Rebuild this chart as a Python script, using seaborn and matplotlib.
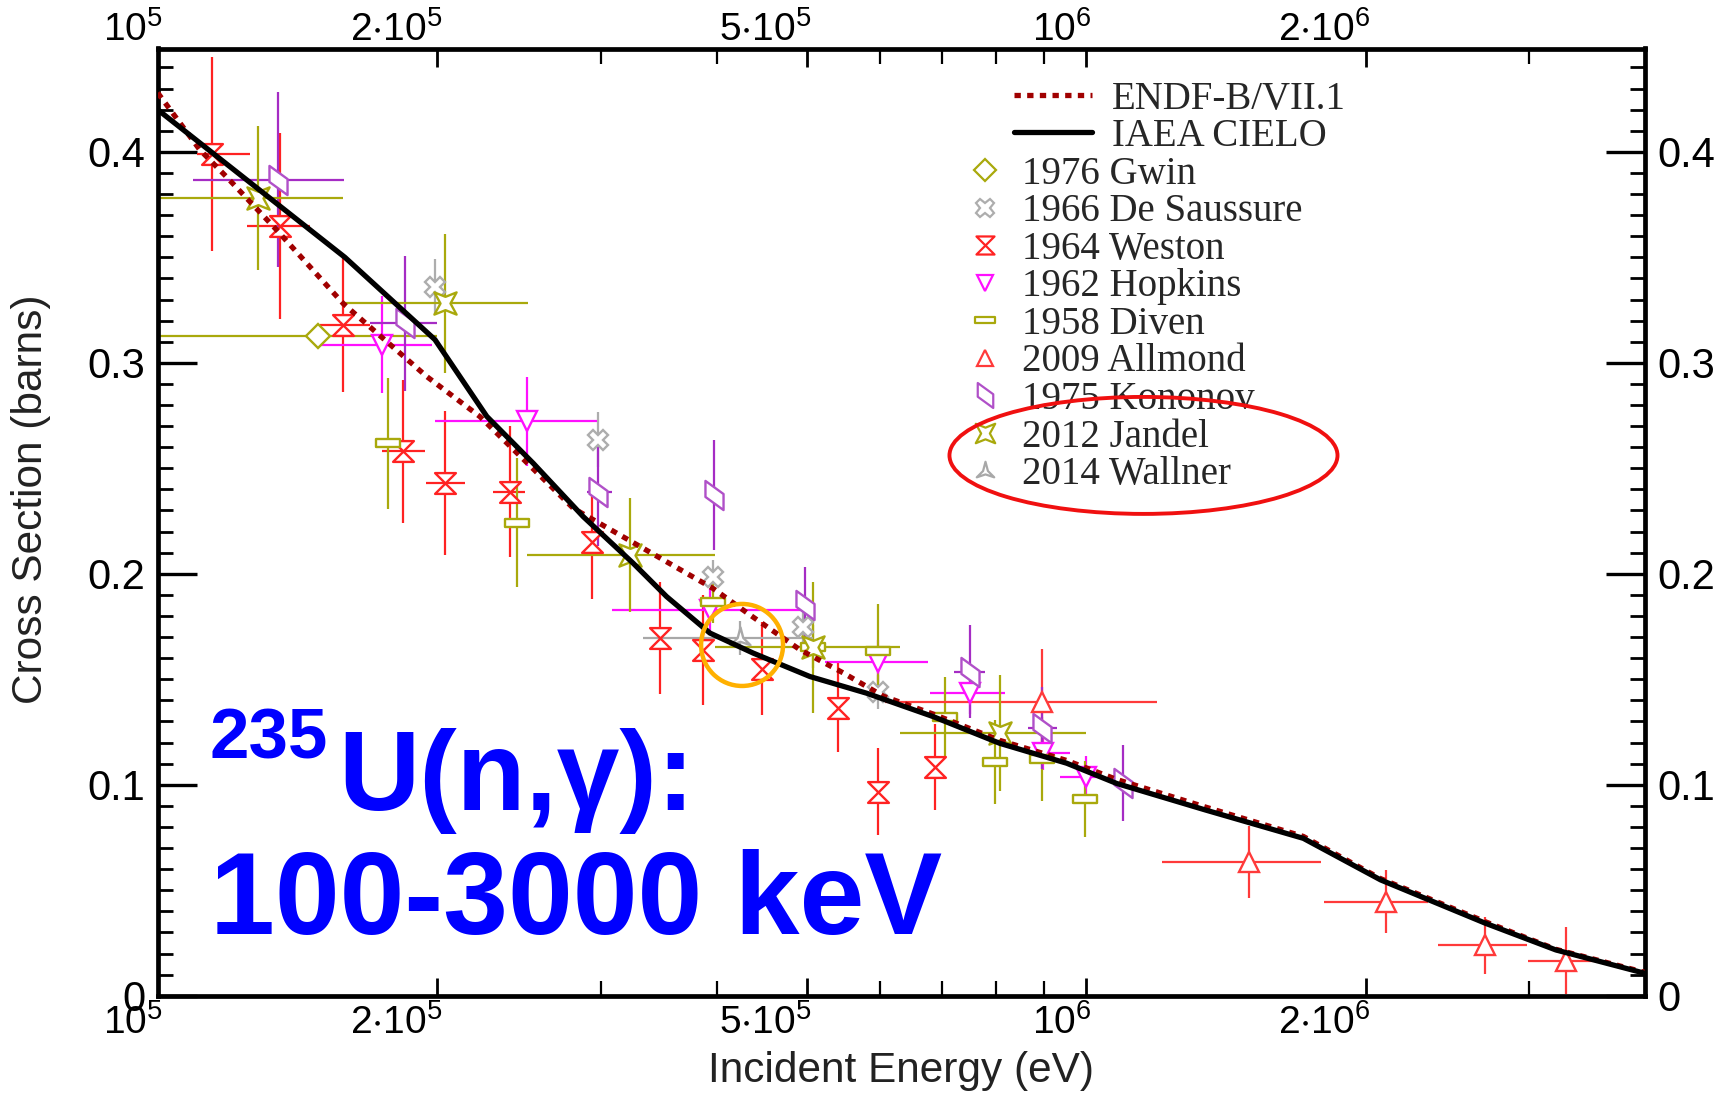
import numpy as np
import pandas as pd
import matplotlib
matplotlib.use("Agg")
import matplotlib.pyplot as plt
import seaborn as sns
from matplotlib.path import Path
from matplotlib.markers import MarkerStyle
from matplotlib.lines import Line2D
from matplotlib.patches import Ellipse
from matplotlib import font_manager
from matplotlib.transforms import ScaledTranslation
import matplotlib.ticker as mticker

# ---------------- data ----------------
# evaluated curves: energy (eV), cross section (b)
endf_E = [1.000e5, 1.110e5, 1.187e5, 1.343e5, 1.585e5, 1.949e5, 2.224e5, 2.804e5,
          3.306e5, 3.966e5, 4.345e5, 4.918e5, 5.476e5, 6.047e5, 6.844e5, 8.077e5,
          9.531e5, 1.079e6, 1.343e6, 1.714e6, 2.076e6, 2.694e6, 3.206e6, 4.000e6]
endf_S = [0.428, 0.401, 0.388, 0.363, 0.328, 0.2935, 0.2745, 0.231,
          0.213, 0.193, 0.1805, 0.164, 0.153, 0.142, 0.1335, 0.121,
          0.1115, 0.1025, 0.0895, 0.0755, 0.0555, 0.035, 0.022, 0.011]

cielo_E = [1.000e5, 1.591e5, 1.989e5, 2.262e5, 2.538e5, 2.873e5, 3.252e5, 3.533e5,
           3.934e5, 4.380e5, 5.041e5, 5.802e5, 6.844e5, 8.077e5, 9.531e5, 1.079e6,
           1.343e6, 1.714e6, 2.076e6, 2.694e6, 3.206e6, 4.000e6]
cielo_S = [0.420, 0.350, 0.311, 0.2746, 0.2524, 0.2271, 0.2050, 0.1892,
           0.1719, 0.1624, 0.1513, 0.1434, 0.1323, 0.1196, 0.1102, 0.1006,
           0.0881, 0.0746, 0.0549, 0.0343, 0.0217, 0.0106]

# experiments: E, sigma, d_sigma, E_low, E_high
gwin_E = [1.489e5]; gwin_S = [0.3125]; gwin_dS = [0.004]
gwin_Elo = [0.99e5]; gwin_Ehi = [1.998e5]

desau_E = [1.989e5, 2.982e5, 3.966e5, 4.958e5, 5.972e5]
desau_S = [0.336, 0.2635, 0.1987, 0.175, 0.1441]
desau_dS = [0.013, 0.013, 0.008, 0.010, 0.008]
desau_Elo = desau_E; desau_Ehi = desau_E

weston_E = [1.143e5, 1.354e5, 1.585e5, 1.839e5, 2.038e5, 2.395e5, 2.934e5, 3.475e5,
            3.869e5, 4.472e5, 5.410e5, 5.972e5, 6.874e5]
weston_S = [0.399, 0.365, 0.318, 0.258, 0.243, 0.239, 0.215, 0.1695,
            0.164, 0.155, 0.1366, 0.0967, 0.1083]
weston_dS = [0.046, 0.044, 0.032, 0.034, 0.034, 0.031, 0.027, 0.0265,
             0.026, 0.022, 0.021, 0.0205, 0.0205]
weston_Elo = [1.102e5, 1.249e5, 1.496e5, 1.743e5, 1.945e5, 2.298e5, 2.934e5, 3.475e5,
              3.869e5, 4.472e5, 5.410e5, 5.972e5, 6.874e5]
weston_Ehi = [1.257e5, 1.459e5, 1.693e5, 1.941e5, 2.143e5, 2.487e5, 2.934e5, 3.475e5,
              3.869e5, 4.472e5, 5.410e5, 5.972e5, 6.874e5]

hopk_E = [1.743e5, 2.497e5, 3.934e5, 5.972e5, 7.495e5, 8.978e5, 1.001e6]
hopk_S = [0.3085, 0.2722, 0.1829, 0.1584, 0.1434, 0.1149, 0.1038]
hopk_dS = [0.023, 0.021, 0.010, 0.010, 0.010, 0.008, 0.010]
hopk_Elo = [1.496e5, 1.989e5, 3.084e5, 5.231e5, 6.790e5, 8.70e5, 9.37e5]
hopk_Ehi = [1.973e5, 2.970e5, 4.958e5, 6.760e5, 8.170e5, 9.61e5, 1.035e6]

diven_E = [1.772e5, 2.436e5, 3.966e5, 5.080e5, 5.972e5, 7.047e5, 7.974e5, 8.960e5, 9.970e5]
diven_S = [0.2619, 0.2243, 0.1868, 0.1655, 0.1636, 0.132, 0.1107, 0.1121, 0.0933]
diven_dS = [0.031, 0.0305, 0.010, 0.010, 0.022, 0.019, 0.020, 0.020, 0.018]
diven_Elo = diven_E; diven_Ehi = diven_E

allm_E = [8.968e5, 1.498e6, 2.103e6, 2.689e6, 3.290e6]
allm_S = [0.1394, 0.0635, 0.0446, 0.024, 0.0166]
allm_dS = [0.025, 0.017, 0.015, 0.0135, 0.016]
allm_Elo = [6.072e5, 1.208e6, 1.806e6, 2.396e6, 2.996e6]
allm_Ehi = [1.191e6, 1.790e6, 2.334e6, 2.985e6, 3.550e6]

konon_E = [1.348e5, 1.847e5, 2.982e5, 3.972e5, 4.979e5, 7.495e5, 8.968e5, 1.095e6]
konon_S = [0.3868, 0.3188, 0.239, 0.2374, 0.1853, 0.1536, 0.1268, 0.1007]
konon_dS = [0.0415, 0.032, 0.026, 0.026, 0.018, 0.022, 0.0195, 0.018]
konon_Elo = [1.092e5, 1.693e5, 2.898e5, 3.972e5, 4.979e5, 7.20e5, 8.66e5, 1.095e6]
konon_Ehi = [1.587e5, 1.998e5, 3.084e5, 3.972e5, 4.979e5, 7.78e5, 9.30e5, 1.095e6]

jandel_E = [1.284e5, 2.038e5, 3.227e5, 5.083e5, 8.074e5]
jandel_S = [0.3781, 0.3283, 0.2090, 0.1652, 0.1244]
jandel_dS = [0.034, 0.033, 0.027, 0.031, 0.0275]
jandel_Elo = [0.99e5, 1.582e5, 2.497e5, 3.982e5, 6.30e5]
jandel_Ehi = [1.582e5, 2.507e5, 3.982e5, 6.30e5, 1.001e6]

wall_E = [4.237e5]; wall_S = [0.1695]; wall_dS = [0.008]
wall_Elo = [3.334e5]; wall_Ehi = [5.08e5]

x_major = [1e5, 2e5, 5e5, 1e6, 2e6]
x_major_labels = [r"$\mathregular{10^{5}}$", r"$\mathregular{2{\cdot}10^{5}}$",
                  r"$\mathregular{5{\cdot}10^{5}}$", r"$\mathregular{10^{6}}$",
                  r"$\mathregular{2{\cdot}10^{6}}$"]
x_minor = [3e5, 4e5, 6e5, 7e5, 8e5, 9e5, 3e6]
y_major = [0.0, 0.1, 0.2, 0.3, 0.4]
y_major_labels = ["0", "0.1", "0.2", "0.3", "0.4"]

legend_labels = ["1976 Gwin", "1966 De Saussure", "1964 Weston", "1962 Hopkins",
                 "1958 Diven", "2009 Allmond", "1975 Kononov", "2012 Jandel", "2014 Wallner"]

# ---------------- style ----------------
sns.set_theme(style="white")
names = {f.name for f in font_manager.fontManager.ttflist}
SANS = "Liberation Sans" if "Liberation Sans" in names else "DejaVu Sans"
SERIF = "Liberation Serif" if "Liberation Serif" in names else "DejaVu Serif"
plt.rcParams["font.family"] = [SANS, "DejaVu Sans"]
plt.rcParams["mathtext.fontset"] = "custom"
plt.rcParams["mathtext.rm"] = SANS
plt.rcParams["mathtext.fallback"] = "cm"

OLIVE = "#A9A90C"
RED = "#FF2222"
RED2 = "#FF3A3A"
MAG = "#FF10FF"
PURP = "#A52CC4"
GRAY = "#ADADAD"
DARKRED = "#A00000"

hourglass = MarkerStyle(Path([(-1, 1), (1, 1), (-1, -1), (1, -1), (-1, 1)],
                             [Path.MOVETO, Path.LINETO, Path.LINETO, Path.LINETO, Path.CLOSEPOLY]))
parallelo = MarkerStyle(Path([(-0.62, 1), (0.62, 0.1), (0.62, -1), (-0.62, -0.1), (-0.62, 1)],
                             [Path.MOVETO, Path.LINETO, Path.LINETO, Path.LINETO, Path.CLOSEPOLY]))
rectm = MarkerStyle(Path([(-1, -0.33), (1, -0.33), (1, 0.33), (-1, 0.33), (-1, -0.33)],
                         [Path.MOVETO, Path.LINETO, Path.LINETO, Path.LINETO, Path.CLOSEPOLY]))
jv = [(-1, 1), (0, 0.6), (1, 1), (0.45, 0), (1, -1), (0, -0.6), (-1, -1), (-0.45, 0), (-1, 1)]
jandelm = MarkerStyle(Path(jv, [Path.MOVETO] + [Path.LINETO] * 7 + [Path.CLOSEPOLY]))
wv = [(0, 1), (0.25, 0.05), (0.9, -0.6), (0, -0.3), (-0.9, -0.6), (-0.25, 0.05), (0, 1)]
wallm = MarkerStyle(Path(wv, [Path.MOVETO] + [Path.LINETO] * 5 + [Path.CLOSEPOLY]))

W, H = 1729, 1094
fig = plt.figure(figsize=(W / 100, H / 100), dpi=100)
fig.patch.set_facecolor("white")
ax = fig.add_axes([157.7 / W, 1 - 995.7 / H, 1487.3 / W, 947.2 / H])
ax.set_facecolor("white")
ax.set_xscale("log")

def draw(E, S, dS, Elo, Ehi, color, marker, ms, mcolor=None):
    E = np.asarray(E, float)
    xerr = [E - np.asarray(Elo, float), np.asarray(Ehi, float) - E]
    ax.errorbar(E, S, yerr=dS, xerr=xerr, linestyle="none", marker=marker, ms=ms,
                mfc="white", mec=mcolor or color, mew=1.7, ecolor=color,
                elinewidth=1.6, capsize=0, zorder=2)

draw(gwin_E, gwin_S, gwin_dS, gwin_Elo, gwin_Ehi, OLIVE, "D", 12)
draw(desau_E, desau_S, desau_dS, desau_Elo, desau_Ehi, GRAY, "X", 15)
draw(weston_E, weston_S, weston_dS, weston_Elo, weston_Ehi, RED, hourglass, 15)
draw(hopk_E, hopk_S, hopk_dS, hopk_Elo, hopk_Ehi, MAG, "v", 14)
draw(diven_E, diven_S, diven_dS, diven_Elo, diven_Ehi, OLIVE, rectm, 17)
draw(allm_E, allm_S, allm_dS, allm_Elo, allm_Ehi, RED2, "^", 14)
draw(konon_E, konon_S, konon_dS, konon_Elo, konon_Ehi, PURP, parallelo, 21, "#B050C8")
draw(jandel_E, jandel_S, jandel_dS, jandel_Elo, jandel_Ehi, OLIVE, jandelm, 16)
draw(wall_E, wall_S, wall_dS, wall_Elo, wall_Ehi, "#A8A8A8", wallm, 16)

df_endf = pd.DataFrame({"E": endf_E, "sigma": endf_S})
df_cielo = pd.DataFrame({"E": cielo_E, "sigma": cielo_S})
sns.lineplot(data=df_endf, x="E", y="sigma", ax=ax, color=DARKRED, lw=3.8,
             linestyle=(0, (1.2, 1.2)), sort=False, estimator=None, zorder=3, legend=False)
sns.lineplot(data=df_cielo, x="E", y="sigma", ax=ax, color="black", lw=3.8,
             sort=False, estimator=None, zorder=4, legend=False)

ax.set_xlim(1e5, 4e6)
ax.set_ylim(0, 0.449)

# ticks
ax.xaxis.set_major_locator(mticker.FixedLocator(x_major))
ax.xaxis.set_minor_locator(mticker.FixedLocator(x_minor))
ax.xaxis.set_major_formatter(mticker.FixedFormatter(x_major_labels))
ax.xaxis.set_minor_formatter(mticker.NullFormatter())
ax.yaxis.set_major_locator(mticker.FixedLocator(y_major))
ax.yaxis.set_minor_locator(mticker.MultipleLocator(0.01))
ax.yaxis.set_major_formatter(mticker.FixedFormatter(y_major_labels))

ax.tick_params(axis="both", which="both", direction="in", top=True, bottom=True,
               left=True, right=True, labeltop=True, labelright=True, colors="black")
ax.tick_params(axis="y", which="major", length=28, width=2.4, labelsize=30, pad=9)
ax.tick_params(axis="y", which="minor", length=11, width=2.0)
ax.tick_params(axis="x", which="major", length=13, width=2.0, labelsize=28, pad=5)
ax.tick_params(axis="x", which="minor", length=11, width=1.6)
off1 = ScaledTranslation(5 / 100, -1 / 100, fig.dpi_scale_trans)
off2 = ScaledTranslation(5 / 100, -7 / 100, fig.dpi_scale_trans)
for t in ax.xaxis.get_major_ticks():
    t.label1.set_horizontalalignment("right")
    t.label2.set_horizontalalignment("right")
    t.label1.set_transform(t.label1.get_transform() + off1)
    t.label2.set_transform(t.label2.get_transform() + off2)

for sp in ax.spines.values():
    sp.set_linewidth(3.4)
    sp.set_color("black")
    sp.set_visible(True)

ax.set_xlabel("Incident Energy (eV)", fontsize=30.5, color="#222222")
ax.set_ylabel("Cross Section (barns)", fontsize=30.5, color="#222222")
ax.xaxis.set_label_coords(0.5, -0.058)
ax.yaxis.set_label_coords(-0.072, 0.524)

# legends
lprop = {"family": SERIF, "size": 28}
line_handles = [Line2D([], [], color=DARKRED, lw=3.8, linestyle=(0, (1.2, 1.2))),
                Line2D([], [], color="black", lw=3.8)]
leg1 = ax.legend(line_handles, ["ENDF-B/VII.1", "IAEA CIELO"], loc="upper left",
                 bbox_to_anchor=(0.576, 0.966), frameon=False, prop=lprop,
                 handlelength=2.0, handletextpad=0.5, labelspacing=0.0,
                 borderpad=0, borderaxespad=0)
ax.add_artist(leg1)
mk = [("D", OLIVE, 11), ("X", GRAY, 13), (hourglass, RED, 13), ("v", MAG, 12),
      (rectm, OLIVE, 14), ("^", RED2, 12), (parallelo, "#B050C8", 18),
      (jandelm, OLIVE, 14), (wallm, "#A8A8A8", 14)]
marker_handles = [Line2D([], [], linestyle="none", marker=m, color=c, mfc="white",
                         mec=c, mew=1.6, ms=s) for m, c, s in mk]
leg2 = ax.legend(marker_handles, legend_labels, loc="upper left",
                 bbox_to_anchor=(0.543, 0.887), frameon=False, prop=lprop,
                 handlelength=1.0, handletextpad=0.45, labelspacing=0.015,
                 borderpad=0, borderaxespad=0)
leg2.set_zorder(5)

# annotations
ax.add_patch(Ellipse((0.6628, 0.5704), 0.2609, 0.1235, transform=ax.transAxes,
                     fill=False, ec="#F01010", lw=2.8, zorder=6, clip_on=False))
ax.add_patch(Ellipse((0.3929, 0.3703), 0.0551, 0.0866, transform=ax.transAxes,
                     fill=False, ec="#FFB000", lw=3.2, zorder=6, clip_on=False))

BLUE = "#0000FF"
fig.text(209.5 / W, 1 - 758.6 / H, "235", color=BLUE, fontsize=51, fontweight="bold",
         family=SANS, va="baseline", ha="left")
fig.text(338.5 / W, 1 - 810.5 / H, "U(n,γ):", color=BLUE, fontsize=81, fontweight="bold",
         family=[SANS, "DejaVu Sans"], va="baseline", ha="left")
fig.text(209.5 / W, 1 - 934 / H, "100-3000 keV", color=BLUE, fontsize=84, fontweight="bold",
         family=SANS, va="baseline", ha="left")

fig.savefig("out.png", dpi=100, facecolor="white")
